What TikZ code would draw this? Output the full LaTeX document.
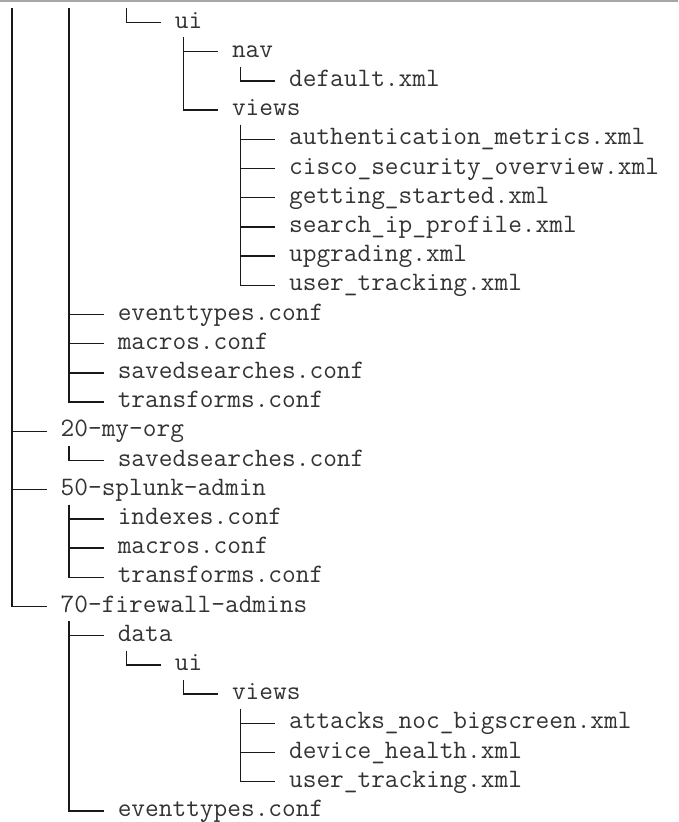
\documentclass[tikz,border=0pt]{standalone}
\usepackage{fontspec}
\tikzset{
  entry/.style={anchor=west, inner xsep=0pt, inner ysep=0pt,
    text height=20.1pt, text depth=9.1pt, text=black!80,
    font=\fontsize{26.6}{29}\selectfont\ttfamily},
  branch/.style={line width=1.3pt, black!90},
}
\begin{document}
\begin{tikzpicture}[x=1pt,y=-1pt]
    \useasboundingbox (0,0) rectangle (678,822);
    \draw [gray!70, line width=1.5pt] (0,0.75) -- (678,0.75);
    % stubs of the levels that start above the cut
    \coordinate (top0) at (12,8);
    \coordinate (top1) at (69.1,8);
    \coordinate (top2) at (126.2,8);
    % entries
    \node [entry] (ui) at (174.7,22.5) {ui};
    \node [entry] (nav) at (231.8,51.7) {nav};
    \node [entry] (navdefault) at (288.9,80.9) {default.xml};
    \node [entry] (views) at (231.8,110.1) {views};
    \node [entry] (vauth) at (288.9,139.3) {authentication\_metrics.xml};
    \node [entry] (vcisco) at (288.9,168.5) {cisco\_security\_overview.xml};
    \node [entry] (vstart) at (288.9,197.7) {getting\_started.xml};
    \node [entry] (vsearch) at (288.9,226.9) {search\_ip\_profile.xml};
    \node [entry] (vupgr) at (288.9,256.1) {upgrading.xml};
    \node [entry] (vtrack) at (288.9,285.3) {user\_tracking.xml};
    \node [entry] (evtypes) at (117.6,314.5) {eventtypes.conf};
    \node [entry] (macros) at (117.6,343.7) {macros.conf};
    \node [entry] (saved) at (117.6,372.9) {savedsearches.conf};
    \node [entry] (transforms) at (117.6,402.1) {transforms.conf};
    \node [entry] (myorg) at (60.5,431.3) {20-my-org};
    \node [entry] (myorgsaved) at (117.6,460.5) {savedsearches.conf};
    \node [entry] (splunkadm) at (60.5,489.7) {50-splunk-admin};
    \node [entry] (saindexes) at (117.6,518.9) {indexes.conf};
    \node [entry] (samacros) at (117.6,548.1) {macros.conf};
    \node [entry] (satransforms) at (117.6,577.3) {transforms.conf};
    \node [entry] (fwadmins) at (60.5,606.5) {70-firewall-admins};
    \node [entry] (fwdata) at (117.6,635.7) {data};
    \node [entry] (fwui) at (174.7,664.9) {ui};
    \node [entry] (fwviews) at (231.8,694.1) {views};
    \node [entry] (fwattacks) at (288.9,723.3) {attacks\_noc\_bigscreen.xml};
    \node [entry] (fwhealth) at (288.9,752.5) {device\_health.xml};
    \node [entry] (fwtrack) at (288.9,781.7) {user\_tracking.xml};
    \node [entry] (fwevtypes) at (117.6,810.9) {eventtypes.conf};
    % branches
    \draw [branch] (top2) |- ([xshift=-13.5pt]ui.west);
    \draw [branch] ([xshift=8.6pt]ui.south west) |- ([xshift=-13.5pt]nav.west);
    \draw [branch] ([xshift=8.6pt]nav.south west) |- ([xshift=-13.5pt]navdefault.west);
    \draw [branch] ([xshift=8.6pt]ui.south west) |- ([xshift=-13.5pt]views.west);
    \draw [branch] ([xshift=8.6pt]views.south west) |- ([xshift=-13.5pt]vauth.west);
    \draw [branch] ([xshift=8.6pt]views.south west) |- ([xshift=-13.5pt]vcisco.west);
    \draw [branch] ([xshift=8.6pt]views.south west) |- ([xshift=-13.5pt]vstart.west);
    \draw [branch] ([xshift=8.6pt]views.south west) |- ([xshift=-13.5pt]vsearch.west);
    \draw [branch] ([xshift=8.6pt]views.south west) |- ([xshift=-13.5pt]vupgr.west);
    \draw [branch] ([xshift=8.6pt]views.south west) |- ([xshift=-13.5pt]vtrack.west);
    \draw [branch] (top1) |- ([xshift=-13.5pt]evtypes.west);
    \draw [branch] (top1) |- ([xshift=-13.5pt]macros.west);
    \draw [branch] (top1) |- ([xshift=-13.5pt]saved.west);
    \draw [branch] (top1) |- ([xshift=-13.5pt]transforms.west);
    \draw [branch] (top0) |- ([xshift=-13.5pt]myorg.west);
    \draw [branch] ([xshift=8.6pt]myorg.south west) |- ([xshift=-13.5pt]myorgsaved.west);
    \draw [branch] (top0) |- ([xshift=-13.5pt]splunkadm.west);
    \draw [branch] ([xshift=8.6pt]splunkadm.south west) |- ([xshift=-13.5pt]saindexes.west);
    \draw [branch] ([xshift=8.6pt]splunkadm.south west) |- ([xshift=-13.5pt]samacros.west);
    \draw [branch] ([xshift=8.6pt]splunkadm.south west) |- ([xshift=-13.5pt]satransforms.west);
    \draw [branch] (top0) |- ([xshift=-13.5pt]fwadmins.west);
    \draw [branch] ([xshift=8.6pt]fwadmins.south west) |- ([xshift=-13.5pt]fwdata.west);
    \draw [branch] ([xshift=8.6pt]fwdata.south west) |- ([xshift=-13.5pt]fwui.west);
    \draw [branch] ([xshift=8.6pt]fwui.south west) |- ([xshift=-13.5pt]fwviews.west);
    \draw [branch] ([xshift=8.6pt]fwviews.south west) |- ([xshift=-13.5pt]fwattacks.west);
    \draw [branch] ([xshift=8.6pt]fwviews.south west) |- ([xshift=-13.5pt]fwhealth.west);
    \draw [branch] ([xshift=8.6pt]fwviews.south west) |- ([xshift=-13.5pt]fwtrack.west);
    \draw [branch] ([xshift=8.6pt]fwadmins.south west) |- ([xshift=-13.5pt]fwevtypes.west);
\end{tikzpicture}
\end{document}
